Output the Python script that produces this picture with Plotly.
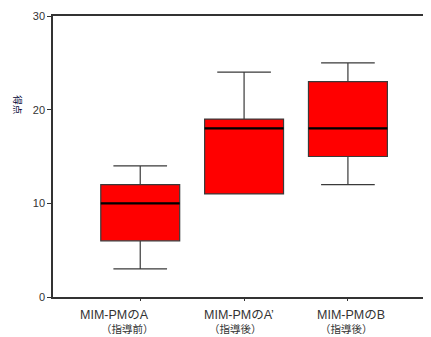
import plotly.graph_objects as go

label_main = ["MIM-PMのA", "MIM-PMのA’", "MIM-PMのB"]
label_sub = ["（指導前）", "（指導後）", "（指導後）"]
lower = [3, 11, 12]
q1 = [6, 11, 15]
median = [10, 18, 18]
q3 = [12, 19, 23]
upper = [14, 24, 25]
yticks = [0, 10, 20, 30]

xpos = list(range(len(label_main)))
bw = 0.76
# horizontal nudges of the category labels (pixels), as drawn in the reference
main_shift = [-26, -5, 3]
sub_shift = [-13, -9, -1]

fig = go.Figure()
fig.add_trace(go.Box(
    x=xpos, q1=q1, median=median, q3=q3, lowerfence=lower, upperfence=upper,
    fillcolor="#ff0000", line=dict(color="#3a3a3a", width=1.2),
    width=bw, whiskerwidth=0.68, boxpoints=False, showlegend=False, hoverinfo="skip",
))
for i, m in enumerate(median):
    fig.add_trace(go.Scatter(
        x=[xpos[i] - bw / 2, xpos[i] + bw / 2], y=[m, m], mode="lines",
        line=dict(color="#000000", width=2.2), showlegend=False, hoverinfo="skip",
    ))

font_fam = "Liberation Sans, Arial, Noto Sans CJK JP, sans-serif"
annotations = []
for i in range(len(xpos)):
    annotations.append(dict(
        text=label_main[i], xref="x", yref="paper", x=xpos[i], y=0,
        xanchor="center", yanchor="middle", yshift=-18, xshift=main_shift[i],
        showarrow=False, font=dict(size=12.5, color="#333333"),
    ))
    annotations.append(dict(
        text=label_sub[i], xref="x", yref="paper", x=xpos[i], y=0,
        xanchor="center", yanchor="middle", yshift=-32, xshift=sub_shift[i],
        showarrow=False, font=dict(size=10.5, color="#333333"),
    ))
annotations.append(dict(
    text="得点", xref="paper", yref="paper", x=-0.093, y=0.683, textangle=90,
    xanchor="center", yanchor="middle",
    showarrow=False, font=dict(size=9.5, color="#000033", family="Noto Sans CJK JP"),
))

fig.update_layout(
    width=423, height=329,
    margin=dict(l=45, r=0, t=8, b=40),
    paper_bgcolor="white", plot_bgcolor="white",
    font=dict(family=font_fam, size=11, color="#222222"),
    xaxis=dict(
        range=[-0.84, 2.8], tickvals=xpos, showticklabels=False, automargin=False,
        showgrid=False, zeroline=False, showline=True, linecolor="#333333", linewidth=1.5,
        mirror=True, ticks="outside", ticklen=2, tickcolor="#333333",
    ),
    yaxis=dict(
        range=[0, 30], tickvals=yticks, showgrid=False, zeroline=False, automargin=False,
        showline=True, linecolor="#333333", linewidth=1.5,
        ticks="outside", ticklen=4, tickcolor="#333333",
        tickfont=dict(size=11, color="#333333"),
    ),
    annotations=annotations,
)
fig.write_html("out.html")
